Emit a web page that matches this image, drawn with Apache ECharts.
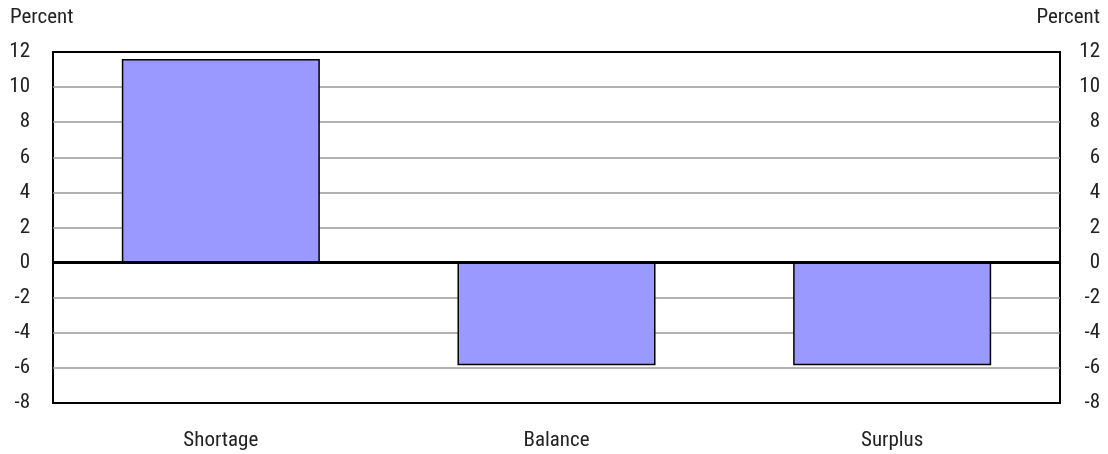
<!DOCTYPE html>
<html><head><meta charset="utf-8">
<script src="https://cdn.jsdelivr.net/npm/echarts@6/dist/echarts.min.js"></script>
<style>html,body{margin:0;padding:0;background:#fff}#c{width:1108px;height:454px}</style>
</head><body><div id="c"></div>
<script>
var categories = ['Shortage', 'Balance', 'Surplus'];
var values = [11.6, -5.85, -5.85];
var yTicks = { min: -8, max: 12, interval: 2 };
var axisTitle = 'Percent';

var FONT = '"Roboto Condensed", "Liberation Sans Narrow", Roboto, sans-serif';
var FS = 21;
var TC = '#222';
var gridColors = ['#000', '#999', '#999', '#999', '#999', '#999', '#999', '#999', '#999', '#999', '#000'];
var chart = echarts.init(document.getElementById('c'), null, { renderer: 'canvas' });
chart.setOption({
  animation: false,
  backgroundColor: '#fff',
  grid: { left: 53, right: 48, top: 52, bottom: 51, show: true, borderColor: '#000', borderWidth: 2, backgroundColor: 'transparent', containLabel: false },
  xAxis: {
    type: 'category', data: categories,
    axisLine: { show: false }, axisTick: { show: false },
    axisLabel: { margin: 27, color: TC, fontFamily: FONT, fontSize: FS }
  },
  yAxis: [
    { type: 'value', position: 'left', min: yTicks.min, max: yTicks.max, interval: yTicks.interval,
      axisLine: { show: false }, axisTick: { show: false },
      axisLabel: { margin: 23, color: TC, fontFamily: FONT, fontSize: FS },
      splitLine: { show: true, lineStyle: { color: gridColors, width: 1.5 } } },
    { type: 'value', position: 'right', min: yTicks.min, max: yTicks.max, interval: yTicks.interval,
      axisLine: { show: false }, axisTick: { show: false },
      axisLabel: { margin: 40, align: 'right', color: TC, fontFamily: FONT, fontSize: FS },
      splitLine: { show: false } }
  ],
  graphic: [
    { type: 'text', left: 10, top: 7, style: { text: axisTitle, fill: TC, font: FS + 'px ' + FONT } },
    { type: 'text', right: 8, top: 7, style: { text: axisTitle, fill: TC, font: FS + 'px ' + FONT } }
  ],
  series: [{
    type: 'bar', data: values, barWidth: '59%', yAxisIndex: 0,
    itemStyle: { color: '#9999FF', borderColor: '#000', borderWidth: 1.5 },
    markLine: { silent: true, symbol: 'none', label: { show: false },
      lineStyle: { color: '#000', width: 3, type: 'solid' }, data: [{ yAxis: 0 }] }
  }]
});
</script></body></html>
